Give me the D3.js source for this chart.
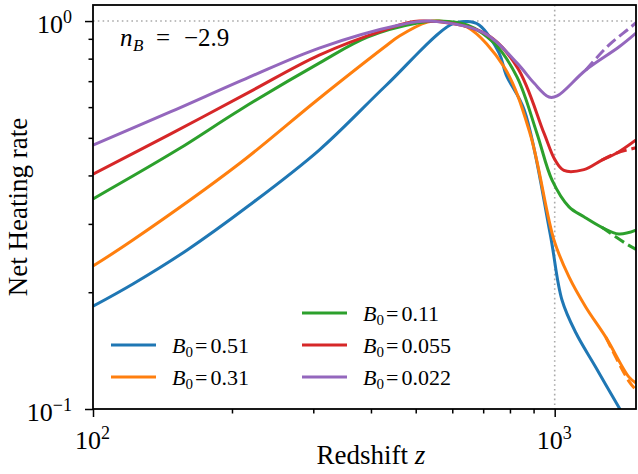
<!DOCTYPE html>
<html>
<head>
<meta charset="utf-8">
<script src="https://cdnjs.cloudflare.com/ajax/libs/d3/7.8.5/d3.min.js"></script>
<style>
    body { margin: 0; background: #fff; }
    svg text { font-family: "Liberation Serif", "DejaVu Serif", serif; fill: #000; }
</style>
</head>
<body>
<svg id="chart" width="638" height="474"></svg>
<script>
// legend values of B0 and matching colours (tab10)
var fieldLabels = ["0.51", "0.31", "0.11", "0.055", "0.022"];
var fieldColors = ["#1f77b4", "#ff7f0e", "#2ca02c", "#d62728", "#9467bd"];

// net heating rate vs redshift, [z, rate]
var heat051 = [[100, 0.184], [122, 0.210], [160, 0.257], [218, 0.335], [309, 0.465], [430, 0.680],
    [594, 0.977], [646, 0.997], [686, 0.977], [758, 0.827], [785, 0.726], [859, 0.590], [977, 0.284],
    [1037, 0.191], [1112, 0.157], [1228, 0.128], [1377, 0.101], [1500, 0.085]];
var heat031 = [[100, 0.2336], [122, 0.2726], [208, 0.430], [306, 0.626], [428, 0.857], [461, 0.915],
    [530, 0.994], [562, 1.0], [646, 0.965], [777, 0.761], [884, 0.514], [997, 0.272], [1074, 0.219],
    [1168, 0.183], [1291, 0.153], [1447, 0.121], [1500, 0.1167]];
var heat011 = [[100, 0.348], [152, 0.465], [208, 0.590], [309, 0.779], [393, 0.909], [504, 0.988],
    [562, 1.0], [646, 0.977], [739, 0.878], [829, 0.717], [915, 0.514], [987, 0.389], [1074, 0.332],
    [1157, 0.313], [1265, 0.294], [1377, 0.2825], [1500, 0.289]];
var heat0055 = [[100, 0.403], [147, 0.511], [218, 0.656], [309, 0.817], [428, 0.948], [509, 1.0],
    [704, 0.931], [829, 0.761], [948, 0.514], [1000, 0.440], [1047, 0.412], [1157, 0.414],
    [1265, 0.438], [1363, 0.457], [1500, 0.494]];
var heat0022 = [[100, 0.479], [147, 0.583], [218, 0.717], [309, 0.852], [461, 0.977], [535, 1.0],
    [704, 0.931], [829, 0.779], [902, 0.692], [972, 0.637], [1012, 0.641], [1168, 0.748],
    [1377, 0.857], [1500, 0.931]];

// dashed counterparts, only visible where they split off at high z
var dash031 = [[1291, 0.153], [1447, 0.118], [1500, 0.112]];
var dash011 = [[1265, 0.294], [1433, 0.266], [1500, 0.258]];
var dash0055 = [[1265, 0.438], [1363, 0.457], [1484, 0.470], [1500, 0.472]];
var dash0022 = [[1168, 0.748], [1310, 0.867], [1447, 0.955], [1500, 0.99]];

var xMajor = [100, 1000], xMinor = [200, 300, 400, 500, 600, 700, 800, 900];
var yMajor = [0.1, 1], yMinor = [0.2, 0.3, 0.4, 0.5, 0.6, 0.7, 0.8, 0.9];
var xTickExp = ["2", "3"], yTickExp = ["\u22121", "0"];

var solid = [heat051, heat031, heat011, heat0055, heat0022];
var dashed = [null, dash031, dash011, dash0055, dash0022];

var margin = {top: 5, right: 2, bottom: 65, left: 93},
    width = 638 - margin.left - margin.right,
    height = 474 - margin.top - margin.bottom;

var svg = d3.select("#chart");
var g = svg.append("g").attr("transform", "translate(" + margin.left + "," + margin.top + ")");

var x = d3.scaleLog().domain([100, 1500]).range([0, width]);
var y = d3.scaleLog().domain([0.1, 1.1]).range([height, 0]);

g.append("clipPath").attr("id", "clip")
    .append("rect").attr("width", width).attr("height", height);

// dotted guides at rate = 1 and z = 1000
g.append("line")
    .attr("x1", 0).attr("x2", width).attr("y1", y(1)).attr("y2", y(1))
    .attr("stroke", "#aaa").attr("stroke-width", 1.6).attr("stroke-dasharray", "1.6,3.2");
g.append("line")
    .attr("x1", x(1000)).attr("x2", x(1000)).attr("y1", 0).attr("y2", height)
    .attr("stroke", "#aaa").attr("stroke-width", 1.6).attr("stroke-dasharray", "1.6,3.2");

var line = d3.line()
    .x(function (d) { return x(d[0]); })
    .y(function (d) { return y(d[1]); })
    .curve(d3.curveCatmullRom.alpha(0.5));

var curves = g.append("g").attr("clip-path", "url(#clip)");
solid.forEach(function (s, i) {
    curves.append("path").datum(s)
        .attr("fill", "none").attr("stroke", fieldColors[i]).attr("stroke-width", 3)
        .attr("stroke-linejoin", "round").attr("d", line);
});
dashed.forEach(function (s, i) {
    if (!s) return;
    curves.append("path").datum(s)
        .attr("fill", "none").attr("stroke", fieldColors[i]).attr("stroke-width", 3)
        .attr("stroke-dasharray", "11,4.8").attr("d", line);
});

// axes: minor ticks first, then majors with 10^n labels
var styleAxis = function (sel) {
    sel.select(".domain").remove();
    sel.selectAll(".tick line").attr("stroke", "#000").attr("stroke-width", 1.5);
};
g.append("g").attr("transform", "translate(0," + height + ")")
    .call(d3.axisBottom(x).tickValues(xMinor).tickSize(4.5).tickFormat(""))
    .call(styleAxis);
g.append("g")
    .call(d3.axisLeft(y).tickValues(yMinor).tickSize(4.5).tickFormat(""))
    .call(styleAxis);

var xAx = g.append("g").attr("transform", "translate(0," + height + ")")
    .call(d3.axisBottom(x).tickValues(xMajor).tickSize(8).tickFormat(""))
    .call(styleAxis);
xAx.selectAll(".tick").append("text")
    .attr("y", 40).attr("x", -1).attr("text-anchor", "middle").attr("font-size", 26)
    .each(function (d, i) {
        var t = d3.select(this);
        t.append("tspan").text("10");
        t.append("tspan").attr("dy", -10).attr("font-size", 18).text(xTickExp[i]);
    });

var yAx = g.append("g")
    .call(d3.axisLeft(y).tickValues(yMajor).tickSize(8).tickFormat(""))
    .call(styleAxis);
yAx.selectAll(".tick").append("text")
    .attr("x", -21).attr("y", 11).attr("text-anchor", "end").attr("font-size", 26)
    .each(function (d, i) {
        var t = d3.select(this);
        t.append("tspan").text("10");
        t.append("tspan").attr("dy", -10).attr("font-size", 18).text(yTickExp[i]);
    });

// frame
g.append("rect").attr("width", width).attr("height", height)
    .attr("fill", "none").attr("stroke", "#000").attr("stroke-width", 1.8);

// axis titles
var xt = svg.append("text").attr("x", 371).attr("y", 464).attr("text-anchor", "middle").attr("font-size", 27);
xt.append("tspan").text("Redshift ");
xt.append("tspan").attr("font-style", "italic").text("z");

svg.append("text")
    .attr("transform", "translate(27," + (margin.top + height / 2) + ") rotate(-90)")
    .attr("text-anchor", "middle").attr("font-size", 27)
    .text("Net Heating rate");

// n_B annotation
var nb = svg.append("text").attr("y", 46).attr("font-size", 25);
nb.append("tspan").attr("x", 120).attr("font-style", "italic").text("n");
nb.append("tspan").attr("x", 133).attr("dy", 5).attr("font-size", 17).attr("font-style", "italic").text("B");
nb.append("tspan").attr("x", 156).attr("dy", -5).text("=");
nb.append("tspan").attr("x", 184).text("\u22122.9");

// legend, two columns like the figure
var legendPos = [[111, 345], [111, 377], [302, 313], [302, 345], [302, 377]];
var legend = svg.append("g");
fieldLabels.forEach(function (lab, i) {
    var p = legendPos[i];
    legend.append("line")
        .attr("x1", p[0]).attr("x2", p[0] + 45).attr("y1", p[1]).attr("y2", p[1])
        .attr("stroke", fieldColors[i]).attr("stroke-width", 3);
    var t = legend.append("text").attr("x", p[0] + 61).attr("y", p[1] + 7.5).attr("font-size", 22);
    t.append("tspan").attr("font-style", "italic").text("B");
    t.append("tspan").attr("dy", 4).attr("font-size", 15).text("0");
    t.append("tspan").attr("dy", -4).attr("dx", 2).text("=");
    t.append("tspan").attr("dx", 3).text(lab);
});
</script>
</body>
</html>
